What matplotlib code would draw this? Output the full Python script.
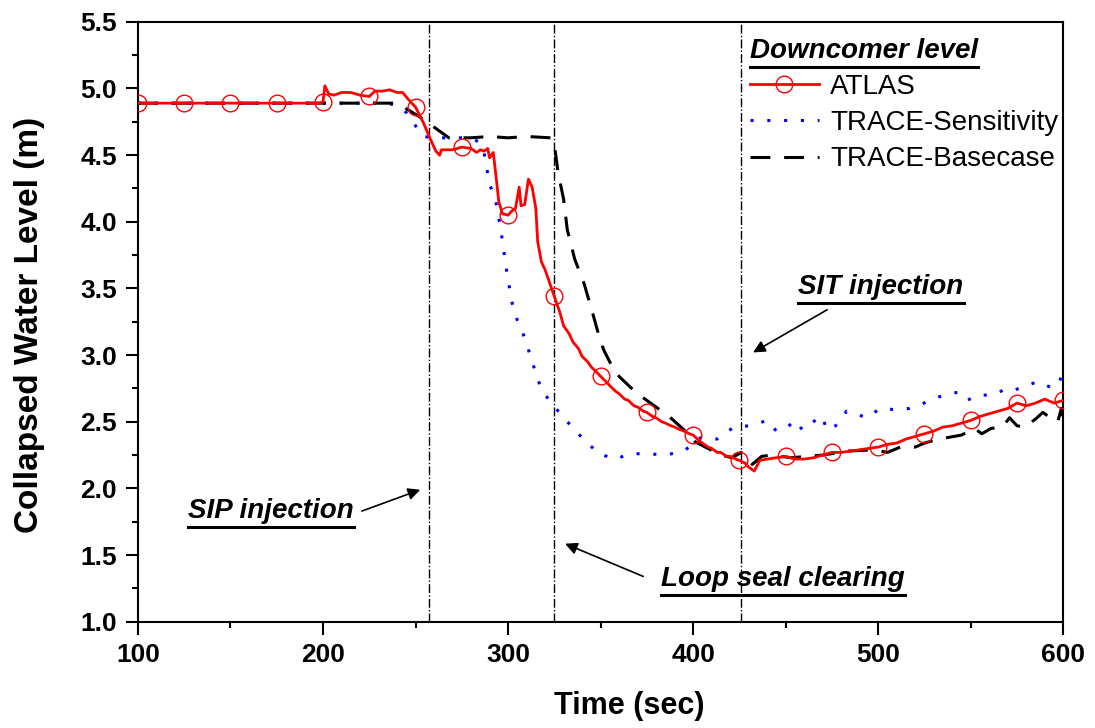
import matplotlib
matplotlib.use('Agg')
import matplotlib.pyplot as plt
import numpy as np
from matplotlib.lines import Line2D

plt.rcParams['font.family'] = ['Liberation Sans', 'DejaVu Sans']

# ATLAS experiment (markers at every 25 s)
atlas_t = [100, 125, 150, 175, 198, 200, 201, 203, 206, 210, 215, 220, 225, 228, 232, 236, 240, 243,
           246, 250, 254, 258, 261, 263, 264, 270, 275, 280, 283, 285, 287, 289, 290, 292, 293, 295,
           297, 300, 302, 304, 306, 307, 309, 311, 313, 315, 316, 318, 320, 322, 325, 328, 330, 333,
           335, 338, 340, 343, 345, 348, 350, 353, 355, 358, 360, 363, 365, 368, 370, 373, 375, 378,
           380, 383, 385, 388, 390, 393, 395, 398, 400, 403, 405, 408, 410, 413, 415, 418, 420, 423,
           425, 428, 430, 433, 436, 440, 445, 450, 455, 460, 465, 470, 475, 480, 485, 490, 495, 500,
           505, 510, 515, 520, 525, 530, 535, 540, 545, 550, 555, 560, 565, 570, 575, 580, 585, 590,
           595, 600]
atlas_h = [4.89, 4.89, 4.89, 4.89, 4.89, 4.90, 5.02, 4.96, 4.95, 4.97, 4.97, 4.95, 4.94, 4.98, 4.98,
           4.99, 4.97, 4.97, 4.92, 4.86, 4.75, 4.62, 4.53, 4.50, 4.54, 4.54, 4.56, 4.55, 4.52, 4.54,
           4.53, 4.55, 4.48, 4.52, 4.40, 4.15, 4.06, 4.05, 4.08, 4.10, 4.26, 4.12, 4.13, 4.32, 4.26,
           4.10, 3.85, 3.70, 3.64, 3.56, 3.44, 3.32, 3.22, 3.16, 3.10, 3.05, 2.99, 2.95, 2.91, 2.87,
           2.84, 2.80, 2.77, 2.73, 2.71, 2.67, 2.66, 2.62, 2.61, 2.58, 2.57, 2.54, 2.53, 2.50, 2.49,
           2.47, 2.46, 2.44, 2.43, 2.41, 2.40, 2.36, 2.34, 2.31, 2.30, 2.27, 2.27, 2.24, 2.24, 2.22,
           2.21, 2.19, 2.16, 2.13, 2.21, 2.22, 2.23, 2.24, 2.22, 2.22, 2.23, 2.25, 2.27, 2.27, 2.28,
           2.29, 2.30, 2.31, 2.33, 2.34, 2.37, 2.39, 2.41, 2.43, 2.46, 2.47, 2.49, 2.51, 2.54, 2.56,
           2.58, 2.60, 2.64, 2.62, 2.64, 2.67, 2.64, 2.66]

# TRACE sensitivity run
sens_t = [100, 235, 240, 245, 250, 254, 260, 270, 280, 284, 287, 290, 293, 296, 299, 302, 305, 309,
          313, 318, 324, 332, 340, 349, 358, 366, 376, 385, 395, 404, 413, 422, 431, 440, 445, 451,
          455, 459, 466, 470, 472, 477, 483, 494, 501, 510, 517, 523, 530, 537, 543, 548, 554, 562,
          568, 572, 580, 586, 593, 597, 600]
sens_h = [4.89, 4.89, 4.87, 4.82, 4.72, 4.64, 4.63, 4.63, 4.63, 4.60, 4.52, 4.28, 4.18, 3.95, 3.65,
          3.40, 3.26, 3.13, 2.95, 2.74, 2.63, 2.50, 2.38, 2.26, 2.22, 2.26, 2.26, 2.25, 2.28, 2.38,
          2.37, 2.46, 2.47, 2.51, 2.43, 2.46, 2.51, 2.44, 2.51, 2.54, 2.44, 2.47, 2.58, 2.53, 2.60,
          2.59, 2.60, 2.63, 2.67, 2.71, 2.72, 2.66, 2.70, 2.70, 2.74, 2.73, 2.77, 2.80, 2.76, 2.83,
          2.81]

# TRACE base case
base_t = [100, 240, 246, 253, 262, 268, 280, 290, 300, 310, 323, 325, 327, 330, 332, 336, 341, 346,
          350, 352, 356, 360, 366, 372, 380, 387, 395, 401, 408, 415, 421, 426, 428, 432, 437, 442,
          453, 461, 470, 484, 498, 505, 512, 520, 525, 530, 537, 545, 552, 556, 561, 567, 571, 575,
          579, 585, 589, 593, 597, 599, 600]
base_h = [4.89, 4.89, 4.84, 4.78, 4.69, 4.63, 4.63, 4.64, 4.63, 4.64, 4.63, 4.58, 4.37, 4.17, 3.94,
          3.72, 3.54, 3.30, 3.10, 3.03, 2.92, 2.84, 2.76, 2.69, 2.61, 2.54, 2.44, 2.35, 2.30, 2.25,
          2.23, 2.27, 2.24, 2.18, 2.24, 2.25, 2.23, 2.24, 2.25, 2.28, 2.29, 2.27, 2.31, 2.31, 2.34,
          2.36, 2.38, 2.40, 2.45, 2.41, 2.45, 2.46, 2.53, 2.47, 2.46, 2.52, 2.57, 2.53, 2.50, 2.60,
          2.50]

events_t = [257, 325, 426]
event_labels = ['SIP injection', 'Loop seal clearing', 'SIT injection']
label_pos = [(172, 1.83), (448.5, 1.32), (501.5, 3.51)]
arrow_from = [(221, 1.83), (373, 1.34), (472.4, 3.34)]
arrow_to = [(252.5, 1.99), (330.8, 1.585), (432.4, 3.02)]


def underline(fig, txt, off=3, lw=2.2):
    r = fig.canvas.get_renderer()
    bb = txt.get_window_extent(r)
    W, H = fig.bbox.width, fig.bbox.height
    y = (bb.y0 - off) / H
    fig.add_artist(Line2D([bb.x0 / W, bb.x1 / W], [y, y], color='black', lw=lw,
                          transform=fig.transFigure))


fig = plt.figure(figsize=(10.95, 7.28), dpi=100)
ax = fig.add_axes([0.126, 0.146, 0.845, 0.824])

mark = [(t % 25 == 0) for t in atlas_t]
ax.plot(atlas_t, atlas_h, color='red', lw=2.0, marker='o', markevery=mark, ms=12,
        mfc='none', mec='red', mew=1.0, label='ATLAS', zorder=4)
ax.plot(sens_t, sens_h, color='blue', lw=2.2, ls=(0, (1, 4.5)), label='TRACE-Sensitivity', zorder=3)
ax.plot(base_t, base_h, color='black', lw=2.2, ls=(0, (6.5, 4.5)), label='TRACE-Basecase', zorder=3)

for t in events_t:
    ax.axvline(t, color='black', lw=1.0, ls='-.', zorder=2)

ax.set_xlim(100, 600)
ax.set_ylim(1.0, 5.5)
ax.set_xticks(np.arange(100, 601, 100))
ax.set_xticks(np.arange(150, 600, 100), minor=True)
ax.set_yticks(np.arange(1.0, 5.51, 0.5))
ax.set_yticks(np.arange(1.25, 5.5, 0.5), minor=True)
ax.yaxis.set_major_formatter(plt.FormatStrFormatter('%.1f'))
ax.tick_params(which='major', direction='out', length=9, width=1.5, labelsize=19, pad=6)
ax.tick_params(which='minor', direction='out', length=4.5, width=1.5)
for lab in ax.get_xticklabels() + ax.get_yticklabels():
    lab.set_fontweight('bold')
for s in ax.spines.values():
    s.set_linewidth(1.5)

ax.set_xlabel('Time (sec)', fontsize=22, fontweight='bold')
ax.xaxis.set_label_coords(0.531, -0.115)
ax.set_ylabel('Collapsed Water Level (m)', fontsize=24, fontweight='bold')
ax.yaxis.set_label_coords(-0.101, 0.495)

leg = ax.legend(loc='upper left', bbox_to_anchor=(0.655, 0.983), frameon=False, fontsize=20,
                title='Downcomer level',
                title_fontproperties={'weight': 'bold', 'style': 'italic', 'size': 20},
                alignment='left', handlelength=2.5, handletextpad=0.4, labelspacing=0.37,
                borderpad=0.2, borderaxespad=0.0)

labels = []
for name, pos, a0, a1 in zip(event_labels, label_pos, arrow_from, arrow_to):
    labels.append(ax.text(pos[0], pos[1], name, fontsize=20, fontweight='bold',
                          fontstyle='italic', ha='center', va='center'))
    ax.annotate('', xy=a1, xytext=a0,
                arrowprops=dict(arrowstyle='-|>', color='black', lw=1.2, mutation_scale=18,
                                shrinkA=0, shrinkB=0))

fig.canvas.draw()
for t in labels + [leg.get_title()]:
    underline(fig, t)

fig.savefig('out.png', dpi=100)
